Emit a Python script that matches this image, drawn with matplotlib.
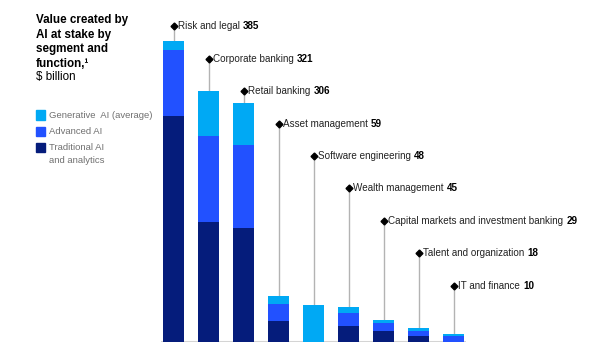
import numpy as np
import matplotlib.pyplot as plt

plt.rcParams['font.family'] = ['Liberation Sans', 'DejaVu Sans']

# 数据：各业务板块的 AI 价值（$ billion）
segments = ['Risk and legal', 'Corporate banking', 'Retail banking',
            'Asset management', 'Software engineering', 'Wealth management',
            'Capital markets and investment banking', 'Talent and organization',
            'IT and finance']
totals = [385, 321, 306, 59, 48, 45, 29, 18, 10]
traditional = [289, 154, 146, 27, 0, 21, 14, 8, 0]
advanced = [85, 110, 106, 22, 0, 16, 11, 7, 8]
generative = [11, 57, 54, 10, 48, 8, 4, 3, 2]

c_gen = '#00A9F4'
c_adv = '#2251FF'
c_trad = '#051C7B'

W, H = 605, 359
fig = plt.figure(figsize=(W / 100, H / 100), dpi=100)
ax = fig.add_axes([152.5 / W, 16.7 / H, 322 / W, 336 / H])
ax.set_xlim(-0.6, 8.6)
ax.set_ylim(0, 430)
ax.axis('off')

x = np.arange(len(segments))
bw = 0.62
trad = np.array(traditional)
adv = np.array(advanced)
gen = np.array(generative)
ax.bar(x, trad, width=bw, color=c_trad, zorder=3)
ax.bar(x, adv, width=bw, bottom=trad, color=c_adv, zorder=3)
ax.bar(x, gen, width=bw, bottom=trad + adv, color=c_gen, zorder=3)
ax.plot([x[0] - bw / 2 - 0.05, x[-1] + bw / 2 + 0.05], [0, 0],
        color='#d4d4d4', lw=1.5, zorder=2, solid_capstyle='butt')

# 标签：竖线 + 菱形 + 名称 + 粗体数值
label_top = 404.5
label_step = 41.5
for i, (name, tot) in enumerate(zip(segments, totals)):
    ly = label_top - i * label_step
    ax.plot([x[i], x[i]], [tot, ly], color='#b3b3b3', lw=1, zorder=1)
    ax.plot(x[i], ly, marker='D', ms=3.5, color='black', zorder=4)
    t = ax.annotate(name, xy=(x[i], ly), xytext=(3.5, 0), textcoords='offset points',
                    fontsize=7.1, color='#222222', va='center', ha='left')
    ax.annotate(str(tot), xy=(1, 0), xycoords=t, xytext=(2, 0),
                textcoords='offset points', fontsize=7.1, fontweight='bold',
                color='black', va='bottom', ha='left')

# 标题
fig.text(36 / W, 1 - 14.5 / H, 'Value created by\nAI at stake by\nsegment and\nfunction,\u00b9',
         fontsize=8.4, fontweight='bold', color='black', va='top', ha='left',
         linespacing=1.26)
fig.text(36 / W, 1 - 71 / H, '$ billion', fontsize=8.4, color='black',
         va='top', ha='left')

# 图例
legend_items = [('Generative  AI (average)', c_gen, 115),
                ('Advanced AI', c_adv, 131.7),
                ('Traditional AI\nand analytics', c_trad, 147.7)]
for lab, col, yc in legend_items:
    fig.patches.append(plt.Rectangle((36 / W, 1 - (yc + 4.6) / H), 9.3 / W, 9.3 / H,
                                     transform=fig.transFigure, color=col))
    fig.text(49.3 / W, 1 - (yc - 4.3) / H, lab, fontsize=6.8, color='#707070',
             va='top', ha='left', linespacing=1.5)

fig.savefig('out.png', dpi=100)
